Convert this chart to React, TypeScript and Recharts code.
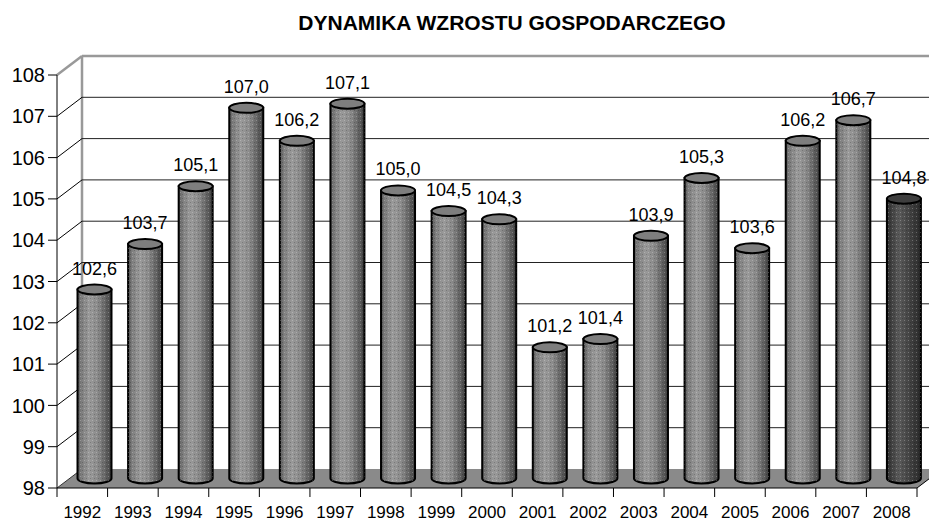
import { Bar, BarChart, CartesianGrid, LabelList, XAxis, YAxis } from "recharts";

const YEARS = ["1992", "1993", "1994", "1995", "1996", "1997", "1998", "1999", "2000", "2001", "2002", "2003", "2004", "2005", "2006", "2007", "2008"];
const GROWTH = [102.6, 103.7, 105.1, 107.0, 106.2, 107.1, 105.0, 104.5, 104.3, 101.2, 101.4, 103.9, 105.3, 103.6, 106.2, 106.7, 104.8];
const Y_TICKS = [98, 99, 100, 101, 102, 103, 104, 105, 106, 107, 108];
const HIGHLIGHT_YEAR = "2008";

const W = 929;
const H = 521;
const PLOT_LEFT = 57;
const PLOT_RIGHT = 917;
const PLOT_TOP = 75;
const PLOT_BOTTOM = 488;
const DX = 25; // depth offset of the back wall
const DY = 19;
const BAND = (PLOT_RIGHT - PLOT_LEFT) / YEARS.length;
const FONT = "'Liberation Sans', Arial, sans-serif";

const data = YEARS.map((year, i) => ({ year, value: GROWTH[i] }));

function gridLine(props: any) {
  const { x1, x2, y1, index } = props;
  const bx1 = x1 + DX;
  const bx2 = x2 + DX;
  const by = y1 - DY;
  const isFloor = Math.abs(y1 - PLOT_BOTTOM) < 1;
  const isTop = Math.abs(y1 - PLOT_TOP) < 1;
  if (isFloor) {
    return (
      <g key={`g-${index}`}>
        <line x1={bx1} y1={PLOT_TOP - DY} x2={bx1} y2={by} stroke="#999" strokeWidth={2.5} />
        <polygon points={`${x1},${y1} ${x2},${y1} ${bx2},${by} ${bx1},${by}`} fill="#8a8a8a" stroke="none" />
        <line x1={x1} y1={y1} x2={bx1} y2={by} stroke="#333" strokeWidth={1} />
        <line x1={x2} y1={y1} x2={bx2} y2={by} stroke="#000" strokeWidth={1} />
      </g>
    );
  }
  return (
    <g key={`g-${index}`}>
      <line x1={bx1} y1={by} x2={bx2} y2={by} stroke={isTop ? "#999" : "#222"} strokeWidth={isTop ? 2.5 : 1} />
      <line x1={x1} y1={y1} x2={bx1} y2={by} stroke={isTop ? "#999" : "#000"} strokeWidth={isTop ? 2.5 : 1} />
    </g>
  );
}

function Cylinder(props: any) {
  const { x, y, width, height, payload } = props;
  const rx = width / 2;
  const cx = x + rx + DX / 2;
  const top = y - 8.5;
  const bot = y + height - DY / 2;
  const ry = 5;
  const dark = payload && payload.year === HIGHLIGHT_YEAR;
  const body = `M${cx - rx},${top} L${cx - rx},${bot} A${rx},${ry} 0 0 0 ${cx + rx},${bot} L${cx + rx},${top} Z`;
  return (
    <g>
      <path d={body} fill={dark ? "url(#cylDark)" : "url(#cylBody)"} stroke="#000" strokeWidth={2} />
      <path d={body} fill="url(#stipple)" stroke="none" />
      <ellipse cx={cx} cy={top} rx={rx} ry={ry} fill={dark ? "#3e3e3e" : "#7e7e7e"} stroke="#000" strokeWidth={2} />
    </g>
  );
}

function ValueLabel(props: any) {
  const { x, y, width, value } = props;
  const cx = x + width / 2 + DX / 2;
  return (
    <text x={cx} y={y - 8.5 - 15} textAnchor="middle" fontSize={18} fontFamily={FONT} fill="#000">
      {Number(value).toFixed(1).replace(".", ",")}
    </text>
  );
}

function YearTick(props: any) {
  const { x, payload, index } = props;
  const left = x - BAND / 2;
  return (
    <g>
      <line x1={left} y1={PLOT_BOTTOM} x2={left} y2={PLOT_BOTTOM + 9} stroke="#000" />
      {index === YEARS.length - 1 && (
        <line x1={x + BAND / 2} y1={PLOT_BOTTOM} x2={x + BAND / 2} y2={PLOT_BOTTOM + 9} stroke="#000" />
      )}
      <text x={x} y={518} textAnchor="middle" fontSize={17} fontFamily={FONT} fill="#000">
        {payload.value}
      </text>
    </g>
  );
}

export default function App() {
  return (
    <div style={{ position: "absolute", left: 0, top: 0, width: W, height: H, background: "#fff" }}>
      <svg width={W} height={40} style={{ position: "absolute", left: 0, top: 0 }}>
        <text x={512} y={30} textAnchor="middle" fontSize={21} fontWeight="bold" fontFamily={FONT} fill="#000">
          DYNAMIKA WZROSTU GOSPODARCZEGO
        </text>
      </svg>
      <div style={{ position: "absolute", left: 0, top: 0 }}>
        <BarChart
          width={W}
          height={H}
          data={data}
          margin={{ top: PLOT_TOP, right: W - PLOT_RIGHT, bottom: 0, left: 0 }}
          style={{ overflow: "visible" }}
        >
          <defs>
            <linearGradient id="cylBody" x1="0" y1="0" x2="1" y2="0">
              <stop offset="0%" stopColor="#5a5a5a" />
              <stop offset="12%" stopColor="#7e7e7e" />
              <stop offset="35%" stopColor="#9a9a9a" />
              <stop offset="60%" stopColor="#8a8a8a" />
              <stop offset="85%" stopColor="#5e5e5e" />
              <stop offset="100%" stopColor="#3e3e3e" />
            </linearGradient>
            <linearGradient id="cylDark" x1="0" y1="0" x2="1" y2="0">
              <stop offset="0%" stopColor="#2e2e2e" />
              <stop offset="35%" stopColor="#5a5a5a" />
              <stop offset="70%" stopColor="#404040" />
              <stop offset="100%" stopColor="#2a2a2a" />
            </linearGradient>
            <pattern id="stipple" width="4" height="4" patternUnits="userSpaceOnUse">
              <rect x="0" y="0" width="1" height="1" fill="#ffffff" fillOpacity={0.25} />
              <rect x="2" y="2" width="1" height="1" fill="#000000" fillOpacity={0.2} />
            </pattern>
          </defs>
          <CartesianGrid vertical={false} horizontal={gridLine} />
          <XAxis
            dataKey="year"
            height={H - PLOT_BOTTOM}
            axisLine={{ stroke: "#000" }}
            tickLine={false}
            tick={YearTick}
            interval={0}
          />
          <YAxis
            domain={[98, 108]}
            ticks={Y_TICKS}
            width={PLOT_LEFT}
            axisLine={{ stroke: "#000" }}
            tickLine={{ stroke: "#000" }}
            tickSize={9}
            tickMargin={3}
            tick={{ fill: "#000", fontSize: 20, fontFamily: FONT }}
            interval={0}
          />
          <Bar dataKey="value" barSize={34} shape={Cylinder} isAnimationActive={false}>
            <LabelList dataKey="value" content={ValueLabel} />
          </Bar>
        </BarChart>
      </div>
    </div>
  );
}
